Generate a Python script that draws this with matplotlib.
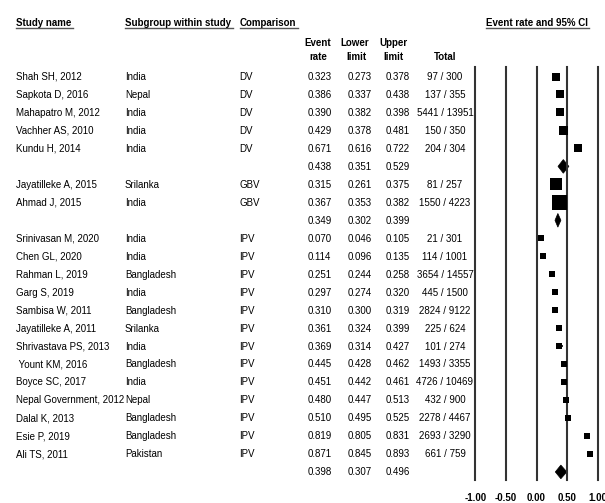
import matplotlib
matplotlib.use("Agg")
import matplotlib.pyplot as plt
import matplotlib.transforms as mtransforms
from matplotlib.lines import Line2D

plt.rcParams['font.family'] = ['Liberation Sans', 'DejaVu Sans']

# ---- study-level data -------------------------------------------------
studies = ["Shah SH, 2012", "Sapkota D, 2016", "Mahapatro M, 2012", "Vachher AS, 2010",
           "Kundu H, 2014", "Jayatilleke A, 2015", "Ahmad J, 2015", "Srinivasan M, 2020",
           "Chen GL, 2020", "Rahman L, 2019", "Garg S, 2019", "Sambisa W, 2011",
           "Jayatilleke A, 2011", "Shrivastava PS, 2013", " Yount KM, 2016", "Boyce SC, 2017",
           "Nepal Government, 2012", "Dalal K, 2013", "Esie P, 2019", "Ali TS, 2011"]
subgroups = ["India", "Nepal", "India", "India", "India", "Srilanka", "India", "India",
             "India", "Bangladesh", "India", "Bangladesh", "Srilanka", "India", "Bangladesh",
             "India", "Nepal", "Bangladesh", "Bangladesh", "Pakistan"]
comparisons = ["DV"] * 5 + ["GBV"] * 2 + ["IPV"] * 13
event_rate = [0.323, 0.386, 0.390, 0.429, 0.671, 0.315, 0.367, 0.070, 0.114, 0.251,
              0.297, 0.310, 0.361, 0.369, 0.445, 0.451, 0.480, 0.510, 0.819, 0.871]
lower_limit = [0.273, 0.337, 0.382, 0.378, 0.616, 0.261, 0.353, 0.046, 0.096, 0.244,
               0.274, 0.300, 0.324, 0.314, 0.428, 0.442, 0.447, 0.495, 0.805, 0.845]
upper_limit = [0.378, 0.438, 0.398, 0.481, 0.722, 0.375, 0.382, 0.105, 0.135, 0.258,
               0.320, 0.319, 0.399, 0.427, 0.462, 0.461, 0.513, 0.525, 0.831, 0.893]
events = [97, 137, 5441, 150, 204, 81, 1550, 21, 114, 3654, 445, 2824, 225, 101, 1493,
          4726, 432, 2278, 2693, 661]
totals = [300, 355, 13951, 350, 304, 257, 4223, 301, 1001, 14557, 1500, 9122, 624, 274,
          3355, 10469, 900, 4467, 3290, 759]

# ---- pooled estimates per comparison ---------------------------------
groups = ["DV", "GBV", "IPV"]
pooled_rate = [0.438, 0.349, 0.398]
pooled_lower = [0.351, 0.302, 0.307]
pooled_upper = [0.529, 0.399, 0.496]

axis_ticks = [-1.0, -0.5, 0.0, 0.5, 1.0]

# box side lengths in pixels (study weights)
box_side_px = [8, 8, 8, 9, 8, 11.5, 15, 5.5, 5.5, 5.5, 5.5, 5.5, 5.5, 5.5, 6, 6.5,
               6, 6, 5.5, 5.5]

W, H = 605, 503
fig = plt.figure(figsize=(W / 100, H / 100), dpi=100)
fig.patch.set_facecolor("white")


def fx(px):
    return px / W


def fy(py):
    return 1 - py / H


ax = fig.add_axes([fx(475.3), fy(480), (597.7 - 475.3) / W, (480 - 67) / H])
ax.set_xlim(-1, 1)
ax.set_ylim(22.45, -0.53)
for s in ax.spines.values():
    s.set_visible(False)
ax.set_yticks([])
ax.set_xticks(axis_ticks)
ax.set_xticklabels([f"{t:.2f}" for t in axis_ticks], fontweight="bold", fontsize=7.0)
ax.tick_params(axis="x", length=0, pad=9.5)

line_col = "#333333"
for t in axis_ticks:
    ax.axvline(t, color=line_col, lw=1.5, clip_on=False)

FS = 7.0
BASE = 0.19  # baseline offset from row centre, in row units
row_tr = mtransforms.blended_transform_factory(fig.transFigure, ax.transData)

# column x positions (pixels)
X_NAME, X_SUB, X_CMP = 16, 125, 239.5
X_RATE, X_LOW, X_UP, X_TOT = 319.5, 360, 398, 445


def row_text(px, row, s, ha="left", **kw):
    fig.text(fx(px), row + BASE, s, transform=row_tr, ha=ha, va="baseline",
             fontsize=FS, **kw)


row = 0
for g, pr, pl, pu in zip(groups, pooled_rate, pooled_lower, pooled_upper):
    for i, c in enumerate(comparisons):
        if c != g:
            continue
        row_text(X_NAME, row, studies[i])
        row_text(X_SUB, row, subgroups[i])
        row_text(X_CMP, row, comparisons[i])
        row_text(X_RATE, row, f"{event_rate[i]:.3f}", ha="center")
        row_text(X_LOW, row, f"{lower_limit[i]:.3f}", ha="center")
        row_text(X_UP, row, f"{upper_limit[i]:.3f}", ha="center")
        row_text(X_TOT, row, f"{events[i]} / {totals[i]}", ha="center")
        ax.plot([lower_limit[i], upper_limit[i]], [row, row], color="black", lw=1.2,
                solid_capstyle="butt")
        ax.plot(event_rate[i], row, marker="s", color="black",
                markersize=box_side_px[i] * 0.72, markeredgewidth=0)
        row += 1
    row_text(X_RATE, row, f"{pr:.3f}", ha="center")
    row_text(X_LOW, row, f"{pl:.3f}", ha="center")
    row_text(X_UP, row, f"{pu:.3f}", ha="center")
    h = 0.38
    ax.fill([pl, pr, pu, pr], [row, row - h, row, row + h], color="black", lw=0.5,
            edgecolor="black")
    row += 1

# ---- headers ----------------------------------------------------------
hdr = dict(fontsize=FS, fontweight="bold", va="baseline")


def hy(py):
    # header rows given by their visual centre in pixels
    return fy(py + 3.5)


underlined = [
    fig.text(fx(X_NAME), hy(22.5), "Study name", ha="left", **hdr),
    fig.text(fx(X_SUB), hy(22.5), "Subgroup within study", ha="left", **hdr),
    fig.text(fx(X_CMP), hy(22.5), "Comparison", ha="left", **hdr),
    fig.text(fx(537), hy(22.5), "Event rate and 95% CI", ha="center", **hdr),
]
fig.text(fx(317.5), hy(43), "Event", ha="center", **hdr)
fig.text(fx(318.5), hy(56), "rate", ha="center", **hdr)
fig.text(fx(355), hy(43), "Lower", ha="center", **hdr)
fig.text(fx(356), hy(56), "limit", ha="center", **hdr)
fig.text(fx(393.5), hy(43), "Upper", ha="center", **hdr)
fig.text(fx(393.5), hy(56), "limit", ha="center", **hdr)
fig.text(fx(X_TOT), hy(56), "Total", ha="center", **hdr)

renderer = fig.canvas.get_renderer()
for t in underlined:
    bb = t.get_window_extent(renderer)
    fig.add_artist(Line2D([bb.x0 / W, (bb.x1 + 1.5) / W], [fy(28.3), fy(28.3)],
                          transform=fig.transFigure, color="#555555", lw=1.0))

fig.savefig("out.png", dpi=100, facecolor="white")
